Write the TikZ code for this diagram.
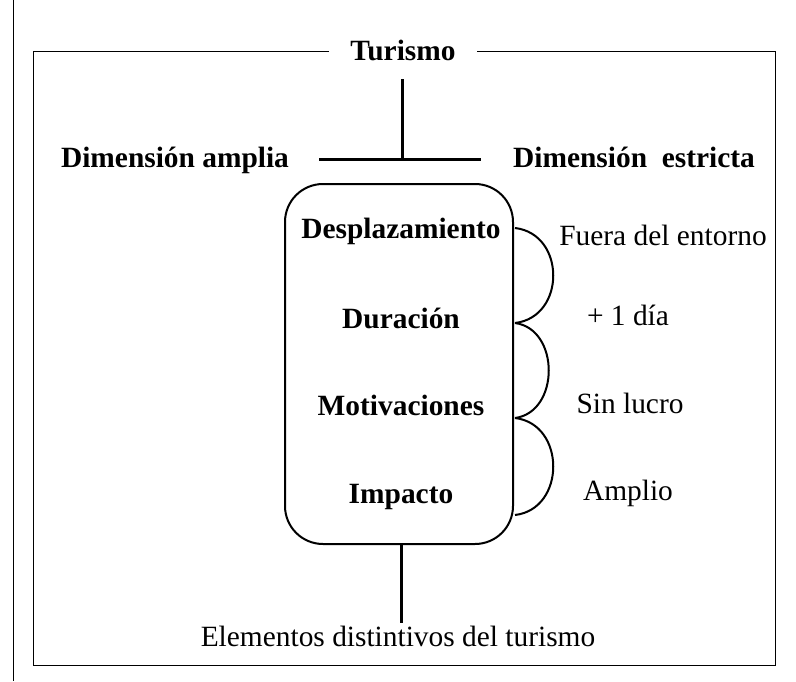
\documentclass[tikz,border=0pt]{standalone}
\usepackage{fontspec}
\setmainfont{Liberation Serif}

\tikzset{
    head/.style={font=\fontsize{29.4}{34}\selectfont\bfseries, inner sep=0pt, anchor=base},
    note/.style={font=\fontsize{29.4}{34}\selectfont, inner sep=0pt, anchor=base},
    stem/.style={line width=3pt},
    frame/.style={line width=1pt}
}

\begin{document}
\begin{tikzpicture}[x=1pt, y=-1pt]
            \useasboundingbox (0, 0) rectangle (796, 681);
            \draw [line width=0.8pt] (13, 0) -- (13, 681);

            % outer frame, broken by the title
            \node [head] (turismo) at (403, 60) {Turismo};
            \draw [frame] (329, 51) -- (33, 51) -- (33, 665) -- (775, 665) -- (775, 51) -- (477, 51);

            \coordinate (stem top) at (402, 79);
            \coordinate (junction) at (402, 159);
            \coordinate (bar left) at (319, 159);
            \coordinate (bar right) at (481, 159);
            \draw [stem] (stem top) -- (junction);
            \draw [stem] (bar left) -- (bar right);

            \node [head] (amplia) at (175, 167) {Dimensión amplia};
            \node [head] (estricta) at (634, 167) {Dimensión\ \ estricta};

            \node [draw, line width=2pt, rounded corners=38pt, minimum width=228pt, minimum height=360pt]
                (elements box) at (399, 364) {};

            \node [head] (desplazamiento) at (401, 238) {Desplazamiento};
            \node [head] (duracion) at (401, 328) {Duración};
            \node [head] (motivaciones) at (401, 415) {Motivaciones};
            \node [head] (impacto) at (401, 503) {Impacto};

            \foreach \ya/\yb/\c in {228/323/566, 323/418/560, 418/515/566}
                {
                    \draw [line width=2pt] (515, \ya) .. controls (\c, \ya+6) and (\c, \yb-6) .. (515, \yb);
                }

            \node [note] (fuera) at (663, 245) {Fuera del entorno};
            \node [note] (dia) at (628, 325) {+ 1 día};
            \node [note] (lucro) at (630, 413) {Sin lucro};
            \node [note] (amplio) at (628, 500) {Amplio};

            \coordinate (stem bottom) at (401, 623);
            \draw [stem] (elements box.south -| stem bottom) -- (stem bottom);
            \node [note] (distintivos) at (398, 646) {Elementos distintivos del turismo};
    \end{tikzpicture}
\end{document}
